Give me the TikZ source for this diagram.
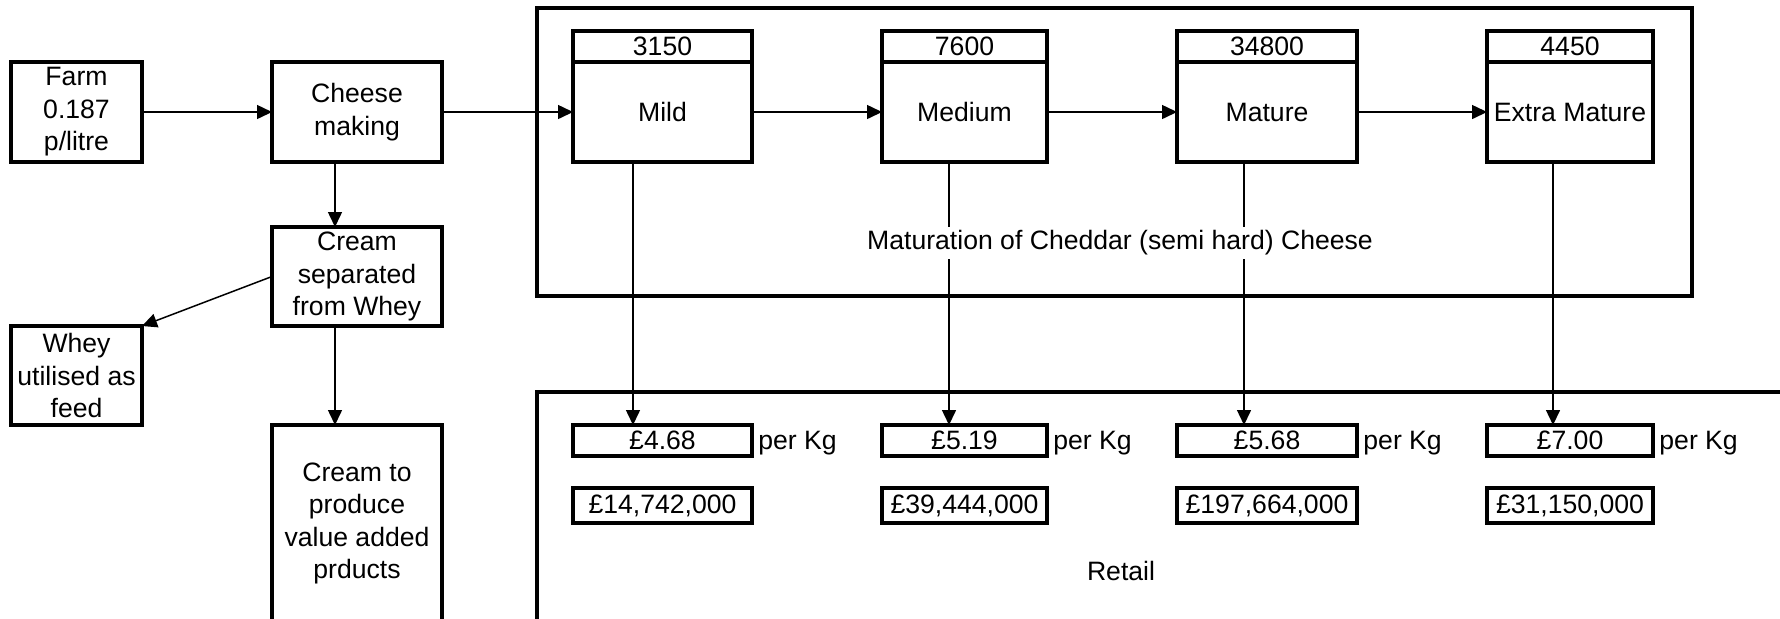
\documentclass[tikz,border=0pt]{standalone}
\usepackage{fontspec}
\setmainfont{Liberation Sans}
\usepackage{tikz}
\usetikzlibrary{arrows.meta, positioning}
\newcommand{\boxfont}{\fontsize{13.3}{16.2}\selectfont}
\tikzset{
  flowbox/.style={rectangle, draw=black, line width=1.6pt, outer sep=0pt,
                  align=center, inner sep=1pt, minimum height=50pt,
                  font=\boxfont},
  headbox/.style={flowbox, minimum height=15.5pt},
  pricebox/.style={flowbox, minimum height=15.5pt},
  groupbox/.style={rectangle, draw=black, line width=1.6pt, outer sep=0pt,
                   anchor=north west},
  arrow/.style={-{Triangle[length=7.5pt,width=7pt]}, line width=0.75pt},
  note/.style={font=\boxfont, inner sep=1pt},
}

\begin{document}
\begin{tikzpicture}[node distance=65pt and 65pt]
    \useasboundingbox (0,0) rectangle (890pt,-309pt);
    \node[groupbox, minimum width=577.5pt, minimum height=144pt] (matbox) at (268.5pt,-4pt) {};
    \node[groupbox, minimum width=640pt, minimum height=130pt] (retailbox) at (268.5pt,-196pt) {};
    \node[flowbox, minimum width=65.5pt] (farm) at (38.25pt,-56pt) {Farm\\0.187\\p/litre};
    \node[flowbox, minimum width=85pt, right=65pt of farm] (cheese) {Cheese\\making};
    \node[flowbox, minimum width=85pt, minimum height=49.5pt, below=32.5pt of cheese] (separate) {Cream\\separated\\from Whey};
    \node[flowbox, minimum width=65.5pt, minimum height=49.5pt, anchor=north] (whey) at (farm |- separate.south) {Whey\\utilised as\\feed};
    \node[flowbox, minimum width=85pt, minimum height=98.5pt, below=49.5pt of separate] (product) {Cream to\\produce\\value added\\prducts};
    \node[flowbox, minimum width=89.5pt, right=65.5pt of cheese] (mild) {Mild};
    \node[flowbox, minimum width=82.5pt, right=65pt of mild] (medium) {Medium};
    \node[flowbox, minimum width=90pt, right=65pt of medium] (mature) {Mature};
    \node[flowbox, minimum width=83pt, right=65pt of mature] (extra) {Extra Mature};
    \node[headbox, minimum width=89.5pt, above=0pt of mild] (mildhead) {3150};
    \node[headbox, minimum width=82.5pt, above=0pt of medium] (mediumhead) {7600};
    \node[headbox, minimum width=90pt, above=0pt of mature] (maturehead) {34800};
    \node[headbox, minimum width=83pt, above=0pt of extra] (extrahead) {4450};
    \node[pricebox, minimum width=89.5pt, below=131.5pt of mild] (mildprice) {£4.68};
    \node[pricebox, minimum width=82.5pt, below=131.5pt of medium] (mediumprice) {£5.19};
    \node[pricebox, minimum width=90pt, below=131.5pt of mature] (matureprice) {£5.68};
    \node[pricebox, minimum width=83pt, below=131.5pt of extra] (extraprice) {£7.00};
    \node[note, anchor=base west] (mildkg) at ([xshift=2pt]mildprice.base east) {per Kg};
    \node[note, anchor=base west] (mediumkg) at ([xshift=2pt]mediumprice.base east) {per Kg};
    \node[note, anchor=base west] (maturekg) at ([xshift=2pt]matureprice.base east) {per Kg};
    \node[note, anchor=base west] (extrakg) at ([xshift=2pt]extraprice.base east) {per Kg};
    \node[pricebox, minimum width=89.5pt, minimum height=17.5pt, below=16pt of mildprice] (mildtotal) {£14,742,000};
    \node[pricebox, minimum width=82.5pt, minimum height=17.5pt, below=16pt of mediumprice] (mediumtotal) {£39,444,000};
    \node[pricebox, minimum width=90pt, minimum height=17.5pt, below=16pt of matureprice] (maturetotal) {£197,664,000};
    \node[pricebox, minimum width=83pt, minimum height=17.5pt, below=16pt of extraprice] (extratotal) {£31,150,000};
    \draw[arrow] (farm) -- (cheese);
    \draw[arrow] (cheese) -- (mild);
    \draw[arrow] (mild) -- (medium);
    \draw[arrow] (medium) -- (mature);
    \draw[arrow] (mature) -- (extra);
    \draw[arrow] ([xshift=-11pt]cheese.south) -- ([xshift=-11pt]separate.north);
    \draw[arrow] ([xshift=-11pt]separate.south) -- ([xshift=-11pt]product.north);
    \draw[arrow] (separate.west) -- (whey.north east);
    \draw[arrow] ([xshift=-14.75pt]mild.south) -- ([xshift=-14.75pt]mildprice.north);
    \draw[arrow] ([xshift=-7.75pt]medium.south) -- ([xshift=-7.75pt]mediumprice.north);
    \draw[arrow] ([xshift=-11.5pt]mature.south) -- ([xshift=-11.5pt]matureprice.north);
    \draw[arrow] ([xshift=-8.5pt]extra.south) -- ([xshift=-8.5pt]extraprice.north);
    \node[note, fill=white, inner sep=2pt] (mattitle) at (560pt,-121.5pt) {Maturation of Cheddar (semi hard) Cheese};
    \node[note] (retail) at (560.5pt,-285.5pt) {Retail};
  \end{tikzpicture}
\end{document}
